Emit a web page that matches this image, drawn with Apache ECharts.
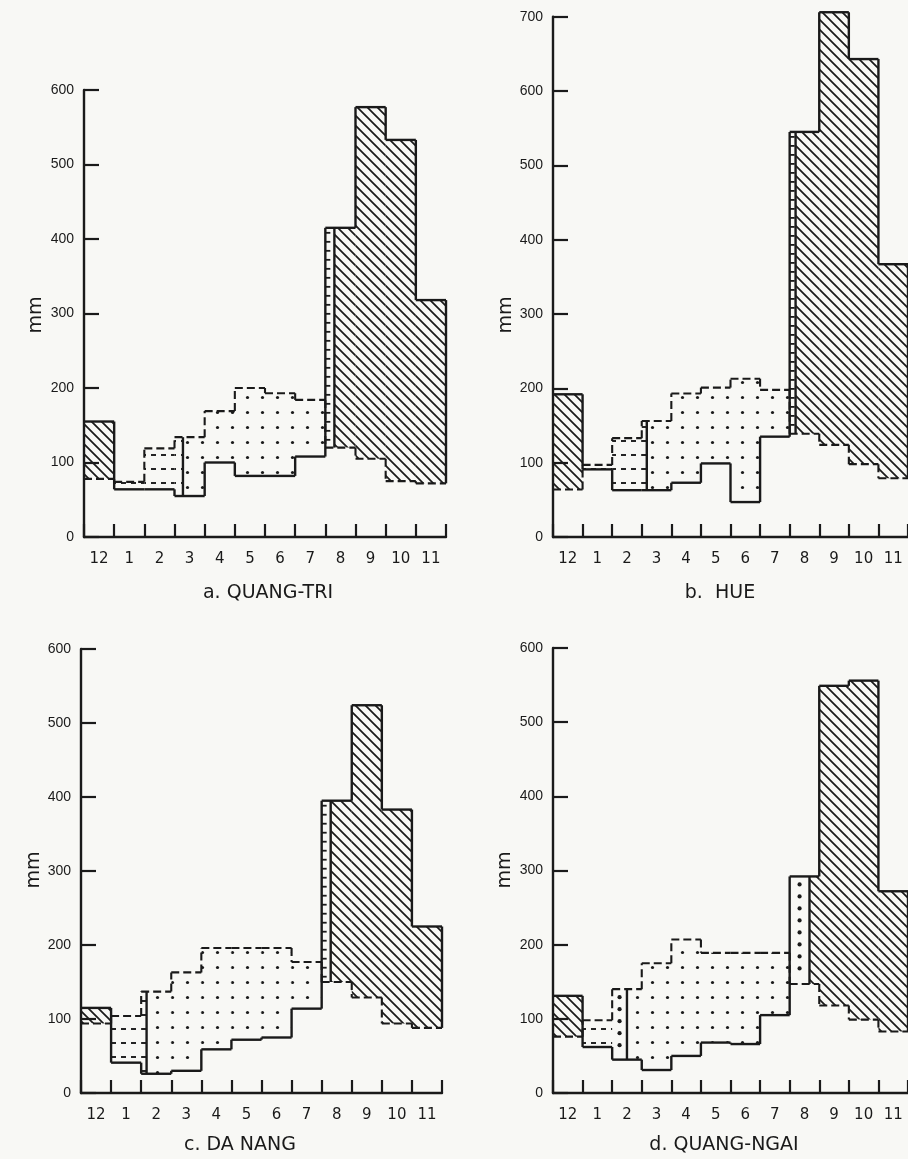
<!DOCTYPE html>
<html>
<head>
<meta charset="utf-8">
<script src="https://cdn.jsdelivr.net/npm/echarts@6.0.0/dist/echarts.min.js"></script>
<style>
html,body{margin:0;padding:0;background:#f8f8f5;}
#chart{width:908px;height:1159px;}
</style>
</head>
<body>
<div id="chart"></div>
<script>
// ---------------- data ----------------
const months = ['12','1','2','3','4','5','6','7','8','9','10','11'];
const yTicks = [0,100,200,300,400,500,600,700];

// a. QUANG-TRI
const precipA = [155, 64, 64, 55, 100, 82, 82, 108, 415, 577, 533, 318];
const petA    = [ 78, 74, 119, 134, 169, 200, 193, 184, 120, 105, 75, 72];
const zoneA   = ['s','u','u','u|d','d','d','d','d','r|s','s','s','s'];
const shareA  = [0,0,0,0.28,0,0,0,0,0.3,0,0,0];

// b. HUE
const precipB = [192, 91, 63, 63, 73, 99, 47, 135, 545, 706, 643, 367];
const petB    = [ 64, 97, 133, 156, 193, 201, 213, 198, 139, 124, 98, 79];
const zoneB   = ['s','u','u','u|d','d','d','d','d','r|s','s','s','s'];
const shareB  = [0,0,0,0.17,0,0,0,0,0.2,0,0,0];

// c. DA NANG
const precipC = [115, 41, 26, 30, 59, 72, 75, 114, 395, 524, 383, 225];
const petC    = [ 94, 104, 137, 163, 196, 196, 196, 177, 150, 129, 94, 88];
const zoneC   = ['s','u','u|d','d','d','d','d','d','r|s','s','s','s'];
const shareC  = [0,0,0.18,0,0,0,0,0,0.3,0,0,0];

// d. QUANG-NGAI
const precipD = [131, 62, 45, 31, 50, 68, 66, 105, 292, 549, 556, 272];
const petD    = [ 76, 98, 140, 175, 207, 189, 189, 189, 147, 118, 99, 83];
const zoneD   = ['s','u','b|d','d','d','d','d','d','b|s','s','s','s'];
const shareD  = [0,0,0.5,0,0,0,0,0,0.67,0,0,0];

const titles = ['a. QUANG-TRI', 'b.  HUE', 'c. DA NANG', 'd. QUANG-NGAI'];

// ---------------- drawing ----------------
const INK = '#1a1a1a';
const FONT = 'DejaVu Sans';
const NUMFONT = 'Liberation Sans';

function tile(w, h, draw) {
  const c = document.createElement('canvas');
  c.width = w; c.height = h;
  const g = c.getContext('2d');
  draw(g);
  return c;
}
const tiles = {
  s: tile(10, 10, g => {
    g.strokeStyle = INK; g.lineWidth = 1.7;
    g.beginPath();
    g.moveTo(-1, -1); g.lineTo(11, 11);
    g.moveTo(9, -1); g.lineTo(11, 1);
    g.moveTo(-1, 9); g.lineTo(1, 11);
    g.stroke();
  }),
  d: tile(15, 15, g => {
    g.fillStyle = INK;
    g.beginPath(); g.arc(7.5, 7.5, 1.6, 0, Math.PI * 2); g.fill();
  }),
  u: tile(10, 14, g => {
    g.strokeStyle = INK; g.lineWidth = 1.9;
    g.beginPath(); g.moveTo(1, 7); g.lineTo(6, 7); g.stroke();
  })
};

function makeRenderer(P, E, Z, S) {
  return function (params, api) {
    const i = params.dataIndex;
    const w = api.size([1, 0])[0];
    const xc = api.coord([i, 0])[0];
    const x0 = xc - w / 2, x1 = xc + w / 2;
    const yP = api.coord([i, api.value(1)])[1];
    const yE = api.coord([i, api.value(2)])[1];
    const top = Math.min(yP, yE), bot = Math.max(yP, yE);
    const kids = [];
    const types = Z[i].split('|');
    const xs = types.length === 2 ? x0 + S[i] * w : null;
    const segs = types.length === 2 ? [[x0, xs, types[0]], [xs, x1, types[1]]] : [[x0, x1, types[0]]];
    segs.forEach(([a, b, t]) => {
      if (bot - top < 0.5) return;
      if (tiles[t]) {
        kids.push({type: 'rect', shape: {x: a, y: top, width: b - a, height: bot - top},
          style: {fill: {image: tiles[t], repeat: 'repeat'}}});
      } else if (t === 'r') {
        for (let y = top + 5; y < bot - 2; y += 9) {
          kids.push({type: 'line', shape: {x1: a, y1: y, x2: a + 5, y2: y}, style: {stroke: INK, lineWidth: 1.8}});
        }
      } else if (t === 'b') {
        for (let y = top + 8; y < bot - 4; y += 12) {
          kids.push({type: 'circle', shape: {cx: (a + b) / 2, cy: y, r: 2.1}, style: {fill: INK}});
        }
      }
    });
    const dash = {stroke: INK, lineWidth: 2.1, lineDash: [8, 4], fill: null};
    const solid = {stroke: INK, lineWidth: 2.4, fill: null};
    kids.push({type: 'line', shape: {x1: x0, y1: yE, x2: x1, y2: yE}, style: dash});
    if (i < P.length - 1) {
      const yEn = api.coord([i + 1, E[i + 1]])[1];
      kids.push({type: 'line', shape: {x1: x1, y1: yE, x2: x1, y2: yEn}, style: dash});
    }
    kids.push({type: 'line', shape: {x1: x0, y1: yP, x2: x1, y2: yP}, style: solid});
    if (i < P.length - 1) {
      const yPn = api.coord([i + 1, P[i + 1]])[1];
      kids.push({type: 'line', shape: {x1: x1, y1: yP, x2: x1, y2: yPn}, style: solid});
    } else {
      kids.push({type: 'line', shape: {x1: x1, y1: yP, x2: x1, y2: yE}, style: solid});
    }
    if (xs !== null) {
      kids.push({type: 'line', shape: {x1: xs, y1: yP, x2: xs, y2: yE}, style: solid});
    }
    return {type: 'group', children: kids};
  };
}

const panels = [
  {P: precipA, E: petA, Z: zoneA, S: shareA, max: 600, grid: {left: 84, top: 90, width: 362, height: 447},
   title: [268, 593], mm: [36, 315]},
  {P: precipB, E: petB, Z: zoneB, S: shareB, max: 700, grid: {left: 553, top: 16.7, width: 360, height: 520.3},
   title: [720, 593], mm: [506, 315]},
  {P: precipC, E: petC, Z: zoneC, S: shareC, max: 600, grid: {left: 81, top: 649, width: 361, height: 444},
   title: [240, 1145], mm: [34, 870]},
  {P: precipD, E: petD, Z: zoneD, S: shareD, max: 600, grid: {left: 553, top: 648, width: 358, height: 445},
   title: [724, 1145], mm: [505, 870]}
];

const axisLine = {show: true, lineStyle: {color: INK, width: 2.4}};
const option = {
  backgroundColor: '#f8f8f5',
  animation: false,
  grid: panels.map(p => Object.assign({containLabel: false}, p.grid)),
  xAxis: panels.map((p, k) => ({
    type: 'category', gridIndex: k, data: months, boundaryGap: true,
    axisLine: axisLine,
    axisTick: {show: true, inside: true, length: 13, interval: 0, lineStyle: {color: INK, width: 2.2}},
    axisLabel: {interval: 0, fontSize: 15, color: INK, fontFamily: FONT, margin: 15},
    splitLine: {show: false}
  })),
  yAxis: panels.map((p, k) => ({
    type: 'value', gridIndex: k, min: 0, max: p.max, interval: 100,
    axisLine: axisLine,
    axisTick: {show: true, inside: true, length: 15, lineStyle: {color: INK, width: 2.2}},
    axisLabel: {fontSize: 14, color: INK, fontFamily: NUMFONT, margin: 10,
      formatter: v => (yTicks.indexOf(v) >= 0 ? String(v) : '')},
    splitLine: {show: false}
  })),
  series: panels.map((p, k) => ({
    type: 'custom', xAxisIndex: k, yAxisIndex: k, clip: false, silent: true,
    data: months.map((m, i) => [i, p.P[i], p.E[i]]),
    encode: {x: 0, y: [1, 2]},
    renderItem: makeRenderer(p.P, p.E, p.Z, p.S)
  })),
  graphic: panels.flatMap((p, k) => [
    {type: 'text', x: p.title[0], y: p.title[1],
     style: {text: titles[k], font: '19px "' + FONT + '"', fill: INK, textAlign: 'center', textVerticalAlign: 'middle'}},
    {type: 'text', x: p.mm[0], y: p.mm[1], rotation: Math.PI / 2,
     style: {text: 'mm', font: '19px "' + FONT + '"', fill: INK, textAlign: 'center', textVerticalAlign: 'middle'}}
  ])
};

const chart = echarts.init(document.getElementById('chart'), null, {renderer: 'canvas'});
chart.setOption(option);
</script>
</body>
</html>
